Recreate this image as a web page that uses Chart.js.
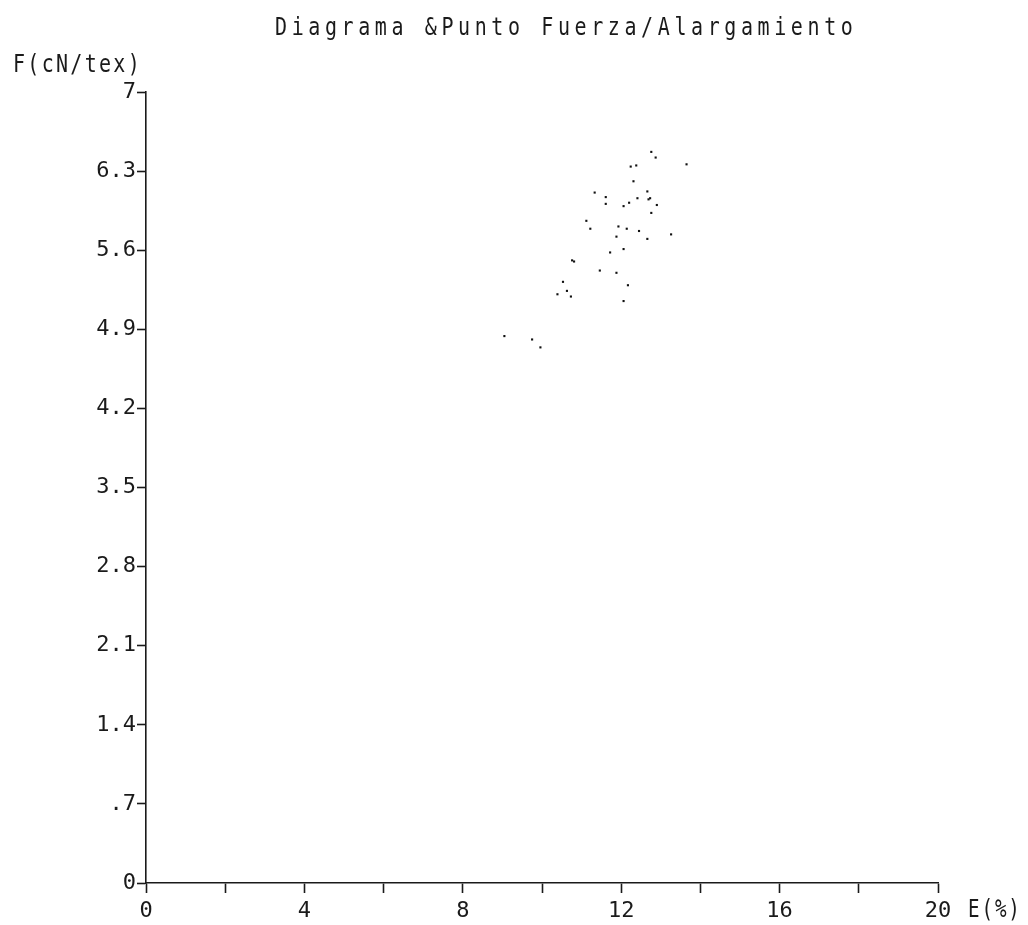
<!DOCTYPE html>
<html>
<head>
<meta charset="utf-8">
<title>Diagrama &amp;Punto Fuerza/Alargamiento</title>
<script src="https://cdn.jsdelivr.net/npm/chart.js@4/dist/chart.umd.min.js"></script>
<style>
  html, body { margin: 0; padding: 0; background: #fff; }
  canvas { display: block; }
</style>
</head>
<body>
<canvas id="c" width="1028" height="925"></canvas>
<script>
// Elongation E(%) of each tested specimen
const elongation = [
  12.76, 12.87, 13.65, 12.38, 12.24, 12.31, 11.33, 12.66, 11.61, 11.61,
  12.41, 12.73, 12.69, 12.20, 12.06, 12.90, 12.76, 11.12, 11.22, 11.93,
  12.14, 11.88, 12.45, 13.26, 12.66, 12.06, 11.72, 10.76, 10.81, 11.46,
  11.88, 10.53, 12.17, 10.63, 10.39, 10.73, 12.06, 9.05, 9.75, 9.96
];
// Breaking tenacity F(cN/tex) of each tested specimen
const tenacity = [
  6.47, 6.42, 6.36, 6.35, 6.34, 6.21, 6.11, 6.12, 6.07, 6.01,
  6.06, 6.06, 6.05, 6.02, 5.99, 6.00, 5.93, 5.86, 5.79, 5.81,
  5.79, 5.72, 5.77, 5.74, 5.70, 5.61, 5.58, 5.51, 5.50, 5.42,
  5.40, 5.32, 5.29, 5.24, 5.21, 5.19, 5.15, 4.84, 4.81, 4.74
];

const chartTitle = 'Diagrama &Punto Fuerza/Alargamiento';
const yAxisTitle = 'F(cN/tex)';
const xAxisTitle = 'E(%)';
const xRange = [0, 20];
const yRange = [0, 7];
const xStep = 2;
const xLabelEvery = 4;
const yStep = 0.7;

const FONT = '"DejaVu Sans Mono", monospace';
const INK = '#1a1a1a';

const points = elongation.map((x, i) => ({ x: x, y: tenacity[i] }));

// Narrow, tall monospace lettering with open spacing (plotter style)
function narrowText(ctx, text, x, y, size, squeeze, spacing) {
  ctx.save();
  ctx.translate(x, y);
  ctx.scale(squeeze, 1);
  ctx.font = size + 'px ' + FONT;
  ctx.letterSpacing = (spacing / squeeze).toFixed(2) + 'px';
  ctx.textAlign = 'left';
  ctx.textBaseline = 'middle';
  ctx.fillText(text, 0, 0);
  ctx.restore();
}

const textPlugin = {
  id: 'plotterText',
  afterDraw(chart) {
    const ctx = chart.ctx;
    ctx.save();
    ctx.fillStyle = INK;
    narrowText(ctx, chartTitle, 275, 28, 25, 0.8, 4.6);
    narrowText(ctx, yAxisTitle, 13, 65, 25, 0.8, 2.3);
    narrowText(ctx, xAxisTitle, 968, 911, 24, 0.8, 1.9);
    ctx.restore();
  }
};

new Chart(document.getElementById('c'), {
  type: 'scatter',
  data: {
    datasets: [{
      data: points,
      pointStyle: 'rect',
      pointRadius: 1.5,
      pointBorderWidth: 0,
      backgroundColor: '#111',
      borderColor: '#111'
    }]
  },
  options: {
    responsive: false,
    animation: false,
    events: [],
    layout: { padding: { left: 0, top: 92, right: 90, bottom: 0 } },
    plugins: {
      legend: { display: false },
      title: { display: false },
      tooltip: { enabled: false }
    },
    scales: {
      x: {
        type: 'linear',
        min: xRange[0],
        max: xRange[1],
        afterFit(scale) { scale.height = 42; },
        border: { display: true, color: INK, width: 1.6 },
        grid: {
          drawOnChartArea: false,
          drawTicks: true,
          tickLength: 10,
          tickWidth: 1.6,
          tickColor: INK
        },
        ticks: {
          stepSize: xStep,
          autoSkip: false,
          maxRotation: 0,
          padding: 5,
          color: INK,
          font: { family: FONT, size: 22 },
          callback: (v) => (Math.round(v) % xLabelEvery === 0 ? String(Math.round(v)) : '')
        }
      },
      y: {
        type: 'linear',
        min: yRange[0],
        max: yRange[1],
        afterFit(scale) { scale.width = 146; },
        border: { display: true, color: INK, width: 1.6 },
        grid: {
          drawOnChartArea: false,
          drawTicks: true,
          tickLength: 9,
          tickWidth: 1.6,
          tickColor: INK
        },
        ticks: {
          stepSize: yStep,
          autoSkip: false,
          padding: 1,
          color: INK,
          font: { family: FONT, size: 22 },
          callback: (v) => {
            const r = Math.round(v * 10) / 10;
            return r === 0 ? '0' : String(r).replace(/^0\./, '.');
          }
        }
      }
    }
  },
  plugins: [textPlugin]
});
</script>
</body>
</html>
